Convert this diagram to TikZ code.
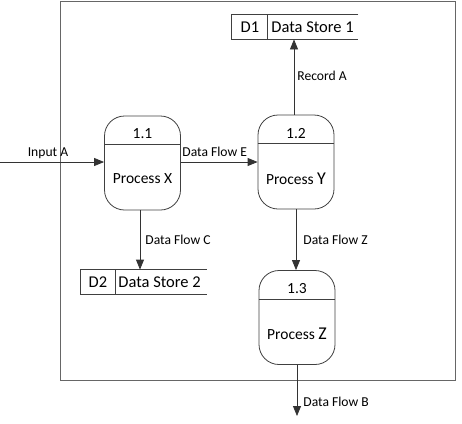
\documentclass[tikz,border=0pt]{standalone}
\usepackage{fontspec}
\setmainfont{Carlito}
\usetikzlibrary{arrows.meta}
\begin{document}
\begin{tikzpicture}[x=1pt,y=-1pt,
  every path/.style={line width=0.8pt},
  proc/.style={draw=black!75,rounded corners=20pt,minimum width=76pt,minimum height=94pt,inner sep=0pt},
  store/.style={minimum width=126pt,minimum height=24pt,inner sep=0pt},
  flow/.style={draw=black!80,-{Triangle[length=10pt,width=8pt]}},
  lbl/.style={font=\fontsize{13.6}{15}\selectfont,inner sep=0pt},
  ptxt/.style={font=\fontsize{15.5}{18}\selectfont,inner sep=0pt},
  stxt/.style={font=\fontsize{16.5}{18}\selectfont,inner sep=0pt},
  frame/.style={draw=black!60,line width=0.7pt}]
\useasboundingbox (0,0) rectangle (462,423);
\draw[frame] (60,1) rectangle (455,380);
% processes
\node[proc] (p1) at (142.5,163) {};
\node[proc] (p2) at (296,162) {};
\node[proc] (p3) at (297,317.5) {};
\foreach \p in {p1,p2,p3}{
  \draw[black!75] ([yshift=-29pt]\p.north west) -- ([yshift=-29pt]\p.north east);
}
\node[ptxt] (n1) at (142.5,134) {1.1};
\node[ptxt] (t1) at (142.5,179) {Process X};
\node[ptxt] (n2) at (296,134) {1.2};
\node[ptxt] (t2) at (296,179) {Process {\fontsize{18}{18}\selectfont Y}};
\node[ptxt] (n3) at (297,289) {1.3};
\node[ptxt] (t3) at (297,334) {Process {\fontsize{18}{18}\selectfont Z}};
% data stores
\node[store] (d1) at (295,27) {};
\draw[black!75] (d1.north east) -- (d1.north west) -- (d1.south west) -- (d1.south east);
\draw[black!75] ([xshift=36pt]d1.north west) -- ([xshift=36pt]d1.south west);
\node[stxt] (d1id) at (250,27) {D1};
\node[stxt,anchor=west] (d1n) at (271,27) {Data Store 1};
\node[store] (d2) at (143.5,282) {};
\draw[black!75] (d2.north east) -- (d2.north west) -- (d2.south west) -- (d2.south east);
\draw[black!75] ([xshift=35pt]d2.north west) -- ([xshift=35pt]d2.south west);
\node[stxt] (d2id) at (98,282) {D2};
\node[stxt,anchor=west] (d2n) at (118,282) {Data Store 2};
% flows
\coordinate (in) at (0,162);
\coordinate (out) at (297,416);
\draw[flow] (in) -- (in -| p1.west);
\node[lbl] (l1) at (48,153) {Input A};
\draw[flow] (p1.east |- 0,162) -- (p2.west |- 0,162);
\node[lbl,anchor=west] (l2) at (182,152) {Data Flow E};
\draw[flow] (p1.south -| 140,0) -- (140,0 |- d2.north);
\node[lbl,anchor=west] (l3) at (145,240) {Data Flow C};
\draw[flow] (p2.north -| 294,0) -- (294,0 |- d1.south);
\node[lbl,anchor=west] (l4) at (297,76) {Record A};
\draw[flow] (p2.south) -- (p3.north -| p2.south);
\node[lbl,anchor=west] (l5) at (303,240) {Data Flow Z};
\draw[flow] (p3.south) -- (out);
\node[lbl,anchor=west] (l6) at (303,402) {Data Flow B};
\end{tikzpicture}
\end{document}
